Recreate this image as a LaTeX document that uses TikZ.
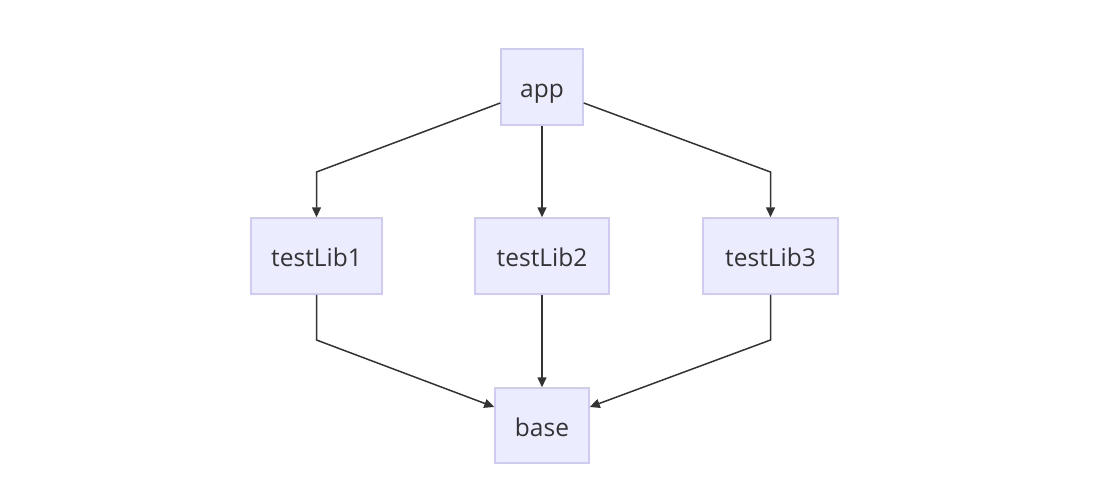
\documentclass[tikz,border=0pt]{standalone}
\usepackage{fontspec}
\setmainfont{Open Sans}
\usetikzlibrary{arrows.meta}
\definecolor{nodefill}{HTML}{ECECFF}
\definecolor{nodeline}{HTML}{CFCBF7}
\definecolor{txt}{HTML}{333333}
\definecolor{edge}{HTML}{333333}
\begin{document}
\begin{tikzpicture}[x=1pt,y=-1pt,
  box/.style={draw=nodeline, fill=nodefill, line width=1.5pt, text=txt, font=\fontsize{24.5}{29}\selectfont, inner sep=0pt, text height=21pt, text depth=0pt, anchor=center},
  link/.style={draw=edge, line width=1.5pt, -{Triangle[length=10pt,width=9pt]}}]
\useasboundingbox (0,0) rectangle (1110,496);
\node[box, minimum width=82pt, minimum height=76pt] (app) at (542,87) {app};
\node[box, minimum width=131pt, minimum height=76pt] (t1) at (316.5,256) {testLib1};
\node[box, minimum width=134pt, minimum height=76pt] (t2) at (542,256) {testLib2};
\node[box, minimum width=135pt, minimum height=76pt] (t3) at (770.5,256) {testLib3};
\node[box, minimum width=94pt, minimum height=75pt] (base) at (542,425.5) {base};
\coordinate (b1) at (316.5,172);
\coordinate (b3) at (770.5,172);
\coordinate (c1) at (316.5,340);
\coordinate (c3) at (770.5,340);
\draw[link] (app.west |- 0,103) -- (b1) -- (t1.north);
\draw[link] (app.south) -- (t2.north);
\draw[link] (app.east |- 0,103) -- (b3) -- (t3.north);
\draw[link] (t1.south) -- (c1) -- (base.west |- 0,407);
\draw[link] (t2.south) -- (base.north);
\draw[link] (t3.south) -- (c3) -- (base.east |- 0,407);
\end{tikzpicture}
\end{document}
